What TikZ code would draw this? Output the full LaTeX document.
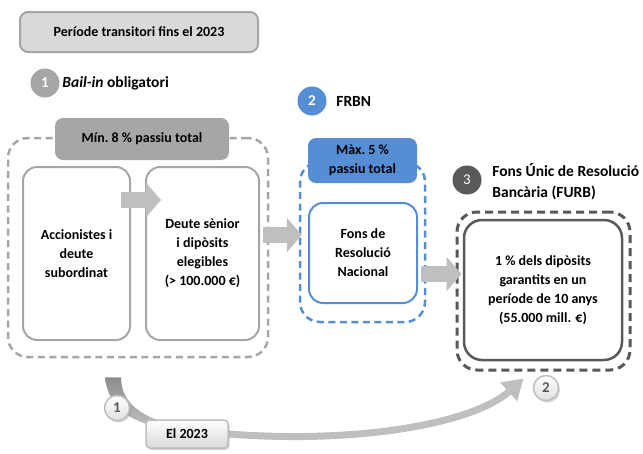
\documentclass[tikz,border=0pt]{standalone}
\usepackage{fontspec}
\setmainfont{Carlito}
\definecolor{frgray}{HTML}{A6A6A6}
\definecolor{frlight}{HTML}{D9D9D9}
\definecolor{frblue}{HTML}{558ED5}
\definecolor{frdark}{HTML}{595959}
\definecolor{frarrow}{HTML}{BFBFBF}
\usetikzlibrary{arrows.meta,positioning,calc,shadows,backgrounds}
\tikzset{
  txt/.style={font=\fontsize{14}{19}\selectfont\bfseries, align=center},
  headtxt/.style={font=\fontsize{15.5}{21}\selectfont\bfseries, align=left, inner sep=0pt},
  numdot/.style={circle, minimum size=29pt, inner sep=0pt, text=white, font=\fontsize{15}{15}\selectfont\bfseries},
  innerbox/.style={txt, draw, line width=2pt, rounded corners=14pt, fill=white},
  dashbox/.style={draw, line width=2.5pt, dash pattern=on 7pt off 4.5pt, rounded corners=20pt},
  headbox/.style={txt, rounded corners=8pt},
  blockarrow/.style={draw=frarrow, line width=16pt, -{Triangle[width=34pt,length=15pt]}},
  badge/.style={circle, draw=frarrow, line width=1.5pt, top color=white, bottom color=black!12,
    minimum size=25pt, inner sep=0pt, text=frdark, font=\fontsize{15}{15}\selectfont\bfseries,
    drop shadow={shadow xshift=1.5pt, shadow yshift=-2pt, opacity=0.35}},
  elbox/.style={txt, draw=frarrow, line width=1.5pt, rounded corners=4pt, top color=white, bottom color=black!15,
    minimum width=82pt, minimum height=28pt, drop shadow={shadow xshift=1.5pt, shadow yshift=-2pt, opacity=0.35}}
}
\begin{document}
\begin{tikzpicture}[x=1pt,y=-1pt]
  \useasboundingbox (0,0) rectangle (643,453);
  %% title
  \node[txt, draw=frgray, fill=frlight, line width=2pt, rounded corners=8pt, minimum width=238pt, minimum height=40pt] (periode) at (139,32) {Període transitori fins el 2023};
  %% headings
  \node[numdot, fill=frgray] (n1) at (45,83) {1};
  \node[headtxt, right=2.5pt of n1] (bailin) {\textit{Bail-in} obligatori};
  \node[numdot, fill=frblue] (n2) at (312,101) {2};
  \node[headtxt, right=9.5pt of n2] (frbn) {FRBN};
  \node[numdot, fill=frdark, font=\fontsize{15}{15}\selectfont] (n3) at (467,180) {3};
  \node[headtxt, right=10.5pt of n3, yshift=-2pt] (furbtitle) {Fons Únic de Resolució\\Bancària (FURB)};
  %% bail-in
  \node[dashbox, draw=frgray, minimum width=260pt, minimum height=219pt] (bailbox) at (138,247.5) {};
  \node[headbox, fill=frgray, minimum width=174pt, minimum height=42pt] (min8) at (142,139) {Mín.\ 8 \% passiu total};
  \node[innerbox, draw=frgray, minimum width=107pt, minimum height=173pt] (accion) at (76.5,253.5) {Accionistes i\\deute\\subordinat};
  \node[innerbox, draw=frgray, minimum width=113pt, minimum height=173pt] (senior) at (202.5,253.5) {Deute sènior\\i dipòsits\\elegibles\\(> 100.000 €)};
  %% FRBN
  \node[dashbox, draw=frblue, minimum width=125pt, minimum height=160pt] (frbnbox) at (362.5,242) {};
  \node[headbox, fill=frblue, minimum width=109pt, minimum height=45pt] (max5) at (362.5,160.5) {Màx.\ 5 \%\\passiu total};
  \node[innerbox, draw=frblue, minimum width=108pt, minimum height=100pt] (fons) at (363,253) {Fons de\\Resolució\\Nacional};
  %% FURB
  \node[dashbox, draw=frdark, line width=3pt, dash pattern=on 8pt off 5pt, minimum width=173pt, minimum height=158pt] (furbbox) at (543.5,291) {};
  \node[innerbox, draw=frdark, line width=2.5pt, rounded corners=18pt, minimum width=158pt, minimum height=140pt] (furb) at (543,290) {1 \% dels dipòsits\\garantits en un\\període de 10 anys\\(55.000 mill. €)};
  %% block arrows
  \draw[blockarrow] ($(accion.north east)+(-10,34)$) -- ($(senior.north west)+(16,34)$);
  \draw[blockarrow] ($(bailbox.east)+(-6,-12.5)$) -- ($(frbnbox.west)+(3,-7)$);
  \draw[blockarrow] ($(frbnbox.east)+(-5,32)$) -- ($(furbbox.west)+(6,-17)$);
  %% timeline
  \coordinate (bailend) at ($(bailbox.south)+(-25,19)$);
  \coordinate (furbtip) at ($(furbbox.south)+(-20,7)$);
  \node[elbox] (el2023) at (187,434) {El 2023};
  \begin{scope}[on background layer]
    \shade[top color=black!45, bottom color=black!25]
      ($(bailend)+(-8,0)$) .. controls +(3,29) and +(-30,-6) .. ($(el2023.north west)+(14,8)$)
      -- ($(el2023.north west)+(22,4)$) .. controls +(-28,-8) and +(0,24) .. ($(bailend)+(8,0)$) -- cycle;
    \draw[line width=7pt, frarrow, -{Triangle[width=24pt,length=20pt]}] (el2023.east) .. controls +(130,10) and +(-50,45) .. (furbtip);
  \end{scope}
  \node[badge] (b1) at (117,408) {1};
  \node[badge] (b2) at (546,388) {2};
\end{tikzpicture}
\end{document}
